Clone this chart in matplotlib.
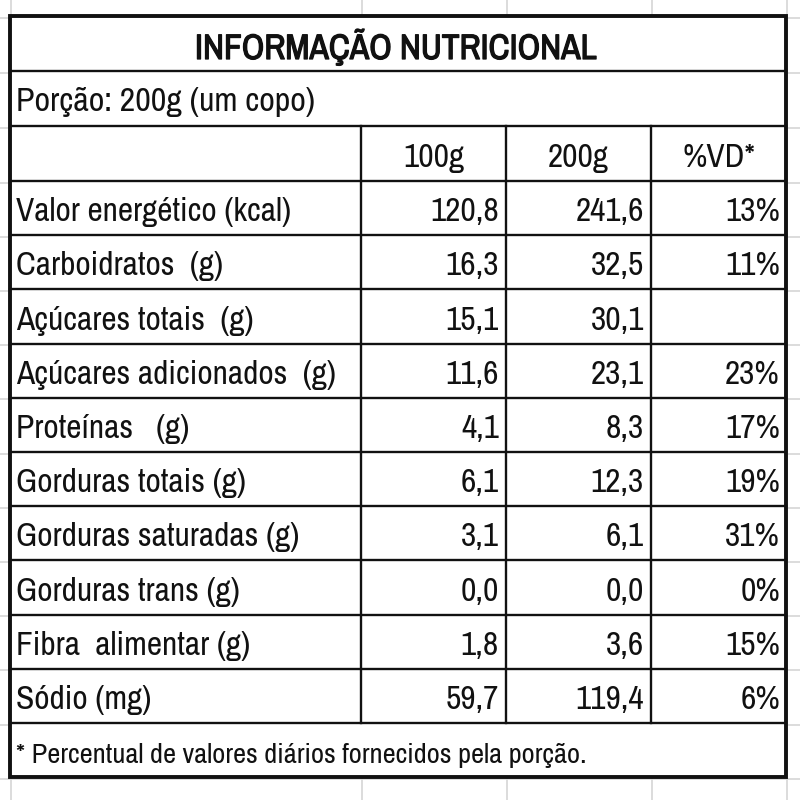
import numpy as np
import matplotlib.pyplot as plt
import matplotlib.patheffects as pe

plt.rcParams['font.family'] = ['Liberation Sans Narrow', 'Archivo Narrow', 'Liberation Sans', 'DejaVu Sans']

title = "INFORMAÇÃO NUTRICIONAL"
portion = "Porção: 200g (um copo)"
columns = ["100g", "200g", "%VD*"]
nutrients = [
    "Valor energético (kcal)",
    "Carboidratos  (g)",
    "Açúcares totais  (g)",
    "Açúcares adicionados  (g)",
    "Proteínas   (g)",
    "Gorduras totais (g)",
    "Gorduras saturadas (g)",
    "Gorduras trans (g)",
    "Fibra  alimentar (g)",
    "Sódio (mg)",
]
per_100g = [120.8, 16.3, 15.1, 11.6, 4.1, 6.1, 3.1, 0.0, 1.8, 59.7]
per_200g = [241.6, 32.5, 30.1, 23.1, 8.3, 12.3, 6.1, 0.0, 3.6, 119.4]
daily_pct = [13, 11, None, 23, 17, 19, 31, 0, 15, 6]
footnote = "* Percentual de valores diários fornecidos pela porção."

# layout in pixel units
left, right = 10, 786
col_edges = [left, 361, 506, 651, right]
top_edges = [16, 71, 126, 181]
row_edges = list(np.linspace(181, 723, len(nutrients) + 1))
bottom = 777
all_rows = top_edges + row_edges[1:] + [bottom]

txt = '#111111'
grid_c = '#d6d6d6'

fig = plt.figure(figsize=(8, 8), dpi=100)
ax = fig.add_axes([0, 0, 1, 1])
ax.set_xlim(0, 800)
ax.set_ylim(800, 0)
ax.axis('off')

# spreadsheet gridlines in the background
for x in col_edges:
    ax.axvline(x + 1, color=grid_c, lw=1.2, zorder=0)
for y in all_rows:
    ax.axhline(y + 1.5, color=grid_c, lw=1.2, zorder=0)

ax.add_patch(plt.Rectangle((left, top_edges[0]), right - left, bottom - top_edges[0],
                           facecolor='white', edgecolor='none', zorder=1))

# horizontal lines inside table
for y in all_rows[1:-1]:
    ax.plot([left, right], [y, y], color='#111111', lw=1.7, zorder=2)
# vertical lines for header + data rows
for x in col_edges[1:-1]:
    ax.plot([x, x], [top_edges[2], row_edges[-1]], color='#111111', lw=1.7, zorder=2)
# outer border
ax.add_patch(plt.Rectangle((left, top_edges[0]), right - left, bottom - top_edges[0],
                           facecolor='none', edgecolor='#111111', lw=2.8, zorder=3))

fs = 24
# narrow family has no bold face here, so thicken the title with a stroke
ax.text((left + right) / 2 - 2, top_edges[1] - 12, title, ha='center', va='baseline',
        fontsize=25.5, fontweight='bold', color=txt,
        path_effects=[pe.withStroke(linewidth=0.9, foreground=txt)])
ax.text(left + 6, top_edges[2] - 15, portion, ha='left', va='baseline',
        fontsize=24.5, color=txt)
for i, c in enumerate(columns):
    ax.text((col_edges[i + 1] + col_edges[i + 2]) / 2, top_edges[3] - 14, c,
            ha='center', va='baseline', fontsize=fs, color=txt)


def fmt(v):
    return f"{v:.1f}".replace('.', ',')


for i, name in enumerate(nutrients):
    yb = row_edges[i + 1] - 14
    ax.text(left + 6, yb, name, ha='left', va='baseline', fontsize=fs, color=txt)
    ax.text(col_edges[2] - 7, yb, fmt(per_100g[i]), ha='right', va='baseline',
            fontsize=fs, color=txt)
    ax.text(col_edges[3] - 7, yb, fmt(per_200g[i]), ha='right', va='baseline',
            fontsize=fs, color=txt)
    if daily_pct[i] is not None:
        ax.text(col_edges[4] - 6, yb, f"{daily_pct[i]}%", ha='right', va='baseline',
                fontsize=fs, color=txt)

ax.text(left + 6, bottom - 14, footnote, ha='left', va='baseline',
        fontsize=20.5, color=txt)

fig.savefig('out.png', dpi=100)
